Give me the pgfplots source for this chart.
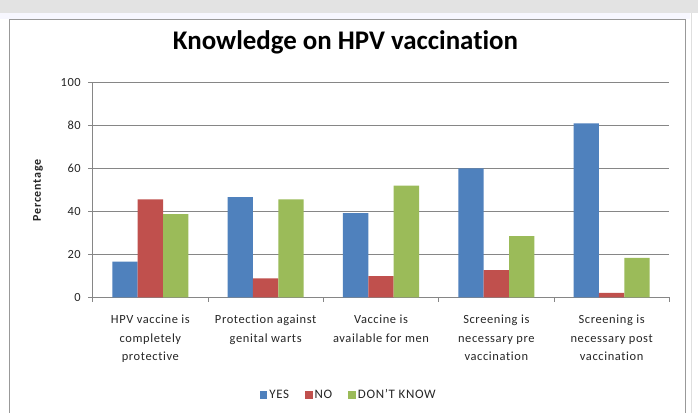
\documentclass[border=0pt]{standalone}
\usepackage{pgfplots}
\pgfplotsset{compat=1.18}
\usepackage{fontspec}
\setmainfont{Carlito}[Ligatures=NoCommon]
\definecolor{exblue}{HTML}{4F81BD}
\definecolor{exred}{HTML}{C0504D}
\definecolor{exgreen}{HTML}{9BBB59}
\definecolor{gridgray}{HTML}{868686}
\definecolor{txt}{HTML}{262626}
\begin{document}
\begin{tikzpicture}
\useasboundingbox (0bp,0bp) rectangle (698bp,413bp);
\fill[white] (0bp,0bp) rectangle (698bp,413bp);
\fill[black!11] (0bp,400bp) rectangle (698bp,413bp);
\fill[blue!3] (0bp,394bp) rectangle (690bp,400bp);
\draw[gray!80, line width=0.8bp] (9bp,-2bp) -- (9bp,394bp) -- (685bp,394bp) -- (685bp,-2bp);
\draw[gray!25, line width=1bp] (691.5bp,-2bp) -- (691.5bp,400bp);
\begin{axis}[
  at={(92.7bp,115.7bp)}, anchor=south west, scale only axis,
  width=576.6bp, height=215bp,
  ybar=0pt, bar width=0.22,
  xmin=-0.5, xmax=4.5, ymin=0, ymax=100,
  axis x line=bottom, axis y line=left,
  axis line style={-, draw=gridgray, line width=0.8bp},
  tick align=outside,
  xtick={0,1,2,3,4},
  xticklabels={{HPV vaccine is\\completely\\protective},{Protection against\\genital warts},{Vaccine is\\available for men},{Screening is\\necessary pre\\vaccination},{Screening is\\necessary post\\vaccination}},
  major x tick style={draw=none},
  minor xtick={-0.5,0.5,1.5,2.5,3.5,4.5},
  minor x tick style={draw=gridgray, line width=0.8bp},
  minor tick length=4.5bp,
  ytick={0,20,40,60,80,100},
  major y tick style={draw=gridgray, line width=0.8bp},
  major tick length=4.5bp,
  ymajorgrids, grid style={gridgray, line width=0.8bp},
  /pgf/number format/assume math mode=true,
  tick label style={font=\fontsize{12.5}{14}\selectfont\addfontfeatures{LetterSpace=4}, text=txt},
  xticklabel style={align=center, font=\fontsize{12.5}{18.3}\selectfont\addfontfeatures{LetterSpace=5}, yshift=-10bp},
  yticklabel style={xshift=-4bp},
  title={Knowledge on HPV vaccination},
  title style={at={(0.4384,1.127)}, anchor=base, font=\fontsize{27}{30}\selectfont\bfseries, text=black},
  ylabel={Percentage},
  ylabel style={at={(-0.0949,0.497)}, anchor=center, font=\fontsize{12}{14}\selectfont\bfseries\addfontfeatures{LetterSpace=6}, text=txt},
  legend style={at={(0.444,-0.4544)}, anchor=center, draw=none, fill=none,
    font=\fontsize{13}{14}\selectfont\addfontfeatures{LetterSpace=5}, text=txt,
    /tikz/every even column/.append style={column sep=14bp},
    /tikz/every odd column/.append style={column sep=0bp}},
  legend columns=3,
  every axis plot post/.append style={legend image code/.code={\fill[##1] (0bp,-3.8bp) rectangle (7.6bp,3.8bp);}},
]
\addplot[fill=exblue, draw=none] coordinates {(0,16.6) (1,46.6) (2,39.2) (3,60.0) (4,80.9)};
\addplot[fill=exred, draw=none] coordinates {(0,45.6) (1,8.8) (2,9.9) (3,12.6) (4,2.1)};
\addplot[fill=exgreen, draw=none] coordinates {(0,38.7) (1,45.6) (2,51.9) (3,28.4) (4,18.3)};
\legend{YES, NO, DON'T KNOW}
\end{axis}
\end{tikzpicture}
\end{document}
